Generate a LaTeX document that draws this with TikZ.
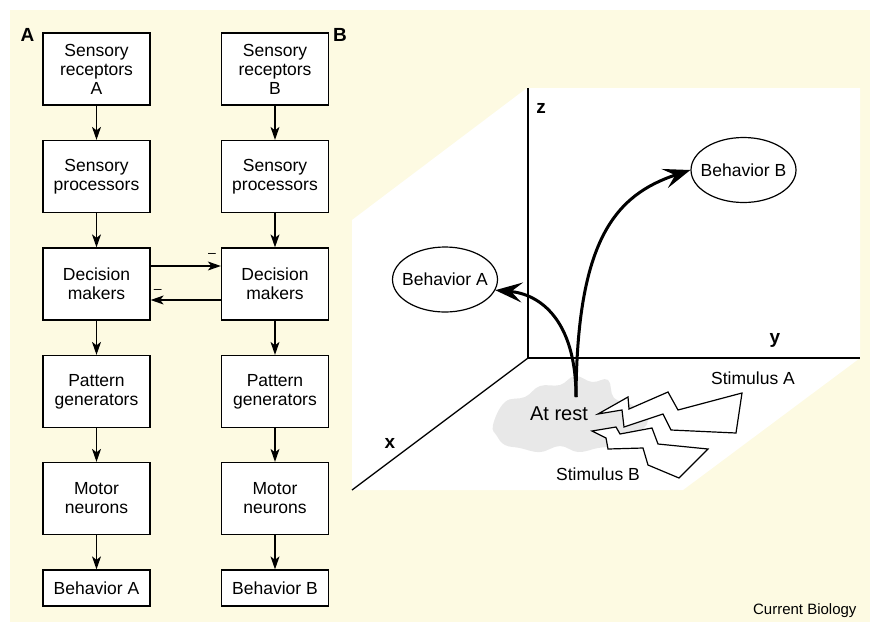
\documentclass[tikz,border=0pt]{standalone}
\usepackage{fontspec}
\setmainfont{Liberation Sans}
\usepackage{tikz}
\usetikzlibrary{arrows.meta,shapes.geometric,calc}
\definecolor{cream}{RGB}{253,250,226}
\definecolor{restgray}{RGB}{232,232,232}

\begin{document}
\begin{tikzpicture}[x=1pt,y=-1pt,
  box/.style={draw,line width=1.3pt,fill=white,minimum width=107pt,minimum height=72pt,
    inner sep=0pt,align=center,font=\fontsize{17.5}{19}\selectfont},
  outbox/.style={box,minimum height=36pt},
  arr/.style={-{Stealth[length=13pt,width=9pt,inset=3.5pt]},line width=1.2pt},
  minus/.style={inner sep=0pt,font=\fontsize{14}{14}\selectfont},
  axis/.style={line width=1.3pt},
  axlabel/.style={font=\fontsize{19}{19}\selectfont\bfseries},
  behav/.style={draw,ellipse,line width=1.2pt,minimum width=105pt,minimum height=65pt,
    inner xsep=-6pt,inner ysep=0pt,font=\fontsize{17.5}{17.5}\selectfont},
  bigarr/.style={-{Stealth[length=27pt,width=20pt,inset=11pt]},line width=3pt},
  bolt/.style={draw,fill=white,line width=1.2pt,line join=miter},
  lbl/.style={font=\fontsize{17.5}{17.5}\selectfont}]

\useasboundingbox (0,0) rectangle (870,622);
\fill[cream] (10,10) rectangle (870,622);

% panel A: two parallel pathways
\node[axlabel] (labA) at (27.5,35) {A};

\node[box] (sensA) at (96.5,69) {Sensory\\receptors\\A};
\node[box] (procA) at (96.5,176.5) {Sensory\\processors};
\node[box] (decA) at (96.5,284) {Decision\\makers};
\node[box] (patA) at (96.5,391.5) {Pattern\\generators};
\node[box] (motA) at (96.5,498.5) {Motor\\neurons};
\node[outbox] (outA) at (96.5,588) {Behavior A};

\node[box] (sensB) at (275,69) {Sensory\\receptors\\B};
\node[box] (procB) at (275,176.5) {Sensory\\processors};
\node[box] (decB) at (275,284) {Decision\\makers};
\node[box] (patB) at (275,391.5) {Pattern\\generators};
\node[box] (motB) at (275,498.5) {Motor\\neurons};
\node[outbox] (outB) at (275,588) {Behavior B};

\draw[arr] (sensA) -- (procA);
\draw[arr] (procA) -- (decA);
\draw[arr] (decA) -- (patA);
\draw[arr] (patA) -- (motA);
\draw[arr] (motA) -- (outA);

\draw[arr] (sensB) -- (procB);
\draw[arr] (procB) -- (decB);
\draw[arr] (decB) -- (patB);
\draw[arr] (patB) -- (motB);
\draw[arr] (motB) -- (outB);

% mutual inhibition
\draw[arr] ([yshift=18pt]decA.east) -- ([yshift=18pt]decB.west)
  node[minus,pos=0.875,above=8pt] {\textendash};
\draw[arr] ([yshift=-16pt]decB.west) -- ([yshift=-16pt]decA.east)
  node[minus,pos=0.9,above=6pt] {\textendash};

% panel B: state space
\node[axlabel] (labB) at (340,35) {B};

\fill[white] (352,220) -- (527,88) -- (860,88) -- (860,358) -- (683,490) -- (352,490) -- cycle;

\coordinate (orig) at (528,358);
\coordinate (zend) at (528,88);
\coordinate (yend) at (860,358);
\coordinate (xend) at (352,490);
\draw[axis] (zend) -- (orig) -- (yend);
\draw[axis] (orig) -- (xend);
\node[axlabel] (zlab) at (541,108) {z};
\node[axlabel] (ylab) at (775,340) {y};
\node[axlabel] (xlab) at (390,443) {x};

\fill[restgray] plot[smooth cycle,tension=0.7] coordinates {(493,425) (505,402) (525,397)
  (540,386) (560,385) (575,376) (592,382) (608,380) (614,398) (632,405) (648,420) (635,435)
  (618,445) (598,448) (578,452) (560,446) (540,452) (520,448) (505,445) (497,436)};
\node[font=\fontsize{20}{20}\selectfont] (rest) at (559,414) {At rest};

\draw[bolt] (592,431) -- (616,427) -- (620,434) -- (652,428) -- (658,444) -- (708,449)
  -- (679,478) -- (648,465) -- (643,448) -- (608,449) -- (606,438) -- cycle;
\draw[bolt] (598,414) -- (628,397) -- (629,409) -- (668,392) -- (678,410) -- (742,393)
  -- (736,433) -- (671,430) -- (663,414) -- (624,427) -- (622,410) -- cycle;
\node[lbl] (stimA) at (753,378) {Stimulus A};
\node[lbl] (stimB) at (598,474) {Stimulus B};

\node[behav] (behA) at (445,279.5) {Behavior A};
\node[behav] (behB) at (743.5,170) {Behavior B};

\coordinate (start) at (576,397);
\draw[bigarr] (start) .. controls (576,320) and (540,294) .. (behA.-12);
\draw[bigarr] (start) .. controls (577,240) and (615,195) .. (behB.west);

\node[anchor=base east,font=\fontsize{15}{15}\selectfont] (credit) at (860,614) {Current Biology};
\end{tikzpicture}
\end{document}
